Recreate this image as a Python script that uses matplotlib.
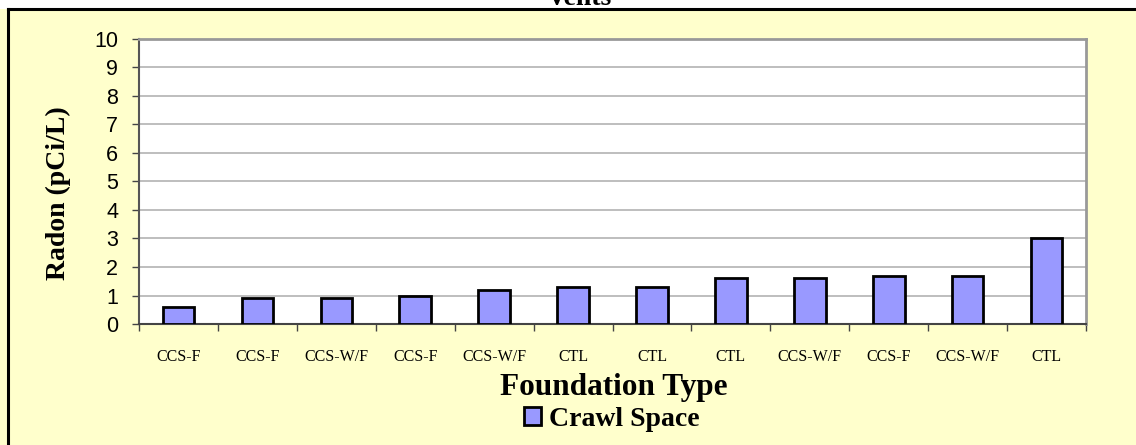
import numpy as np
import matplotlib.pyplot as plt
from matplotlib.patches import Patch
from matplotlib.lines import Line2D

# Data
foundation = ['CCS-F', 'CCS-F', 'CCS-W/F', 'CCS-F', 'CCS-W/F', 'CTL',
              'CTL', 'CTL', 'CCS-W/F', 'CCS-F', 'CCS-W/F', 'CTL']
radon = [0.6, 0.9, 0.9, 1.0, 1.2, 1.3, 1.3, 1.6, 1.6, 1.7, 1.7, 3.0]
y_ticks = list(range(0, 11))

bg = '#FFFFCC'
bar_col = '#9999FF'

fig = plt.figure(figsize=(11.36, 4.45), dpi=100, facecolor=bg)
ax = fig.add_axes([0.1224, 0.2719, 0.8336, 0.6405])
ax.set_facecolor('white')

x = np.arange(len(radon))
ax.bar(x, radon, width=0.4, color=bar_col, edgecolor='black', linewidth=2, zorder=3)

ax.set_xlim(-0.5, len(radon) - 0.5)
ax.set_ylim(0, 10)
ax.set_yticks(y_ticks)
ax.set_yticklabels([str(v) for v in y_ticks], family='Liberation Sans', fontsize=15.5)
ax.yaxis.grid(True, color='#B3B3B3', linewidth=1.2, zorder=0)
ax.tick_params(axis='y', direction='out', length=5, width=1, color='#444444', pad=10)

# category ticks sit between bars, labels centred under bars
ax.set_xticks(np.arange(len(radon) + 1) - 0.5)
ax.set_xticklabels([])
ax.set_xticks(x, minor=True)
ax.set_xticklabels(foundation, minor=True, family='Liberation Serif', fontsize=11.5)
ax.tick_params(axis='x', which='major', direction='out', length=5, width=1, color='#444444')
ax.tick_params(axis='x', which='minor', length=0, pad=18)

for s in ['top', 'right']:
    ax.spines[s].set_color('#999999')
    ax.spines[s].set_linewidth(2)
ax.spines['left'].set_color('#555555')
ax.spines['bottom'].set_color('#444444')
ax.spines['left'].set_linewidth(1.5)
ax.spines['bottom'].set_linewidth(1.5)

fig.text(0.051, 0.566, 'Radon (pCi/L)', rotation=90, ha='center', va='center',
         family='Liberation Serif', fontweight='bold', fontsize=20)

fig.text(0.54, 0.1124, 'Foundation Type', ha='center', va='baseline',
         family='Liberation Serif', fontweight='bold', fontsize=22.5)
fig.text(0.51, 0.989, 'Vents', ha='center', va='baseline',
         family='Liberation Serif', fontweight='bold', fontsize=20)

handle = Patch(facecolor=bar_col, edgecolor='black', linewidth=2)
fig.legend([handle], ['Crawl Space'], loc='center', bbox_to_anchor=(0.539, 0.058),
           frameon=False, prop={'family': 'Liberation Serif', 'weight': 'bold', 'size': 20},
           handlelength=0.6, handleheight=0.6, handletextpad=0.3,
           borderpad=0, borderaxespad=0)

# outer chart frame (left and top edges visible)
fig.patches.append(plt.Rectangle((0, 0.98), 1, 0.03, transform=fig.transFigure,
                                 facecolor='white', edgecolor='none', zorder=-1))
fig.add_artist(Line2D([0.0072, 0.0072], [0, 0.980], transform=fig.transFigure,
                      color='black', linewidth=2.2))
fig.add_artist(Line2D([0.0072, 1.0], [0.980, 0.980], transform=fig.transFigure,
                      color='black', linewidth=2.2))

fig.savefig('out.png', dpi=100, facecolor=bg)
